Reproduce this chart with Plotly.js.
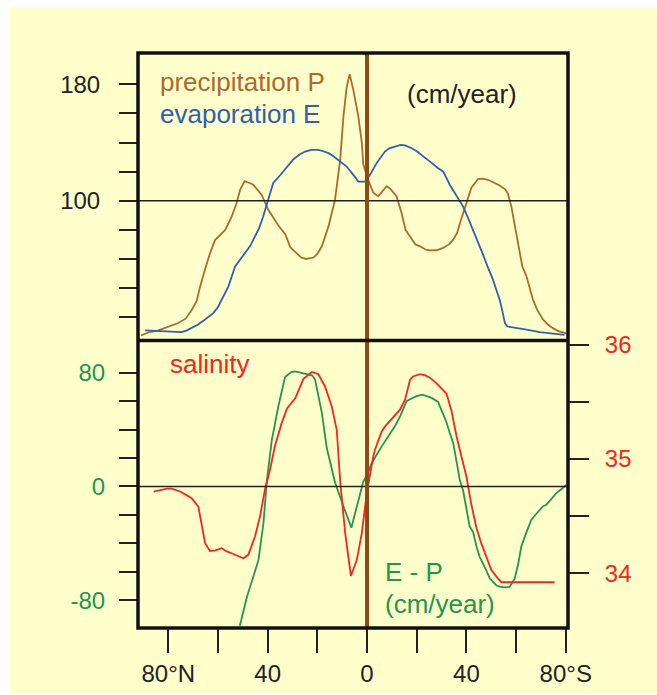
<!DOCTYPE html>
<html>
<head>
<meta charset="utf-8">
<script src="https://cdn.plot.ly/plotly-3.0.1.min.js"></script>
<style>html,body{margin:0;padding:0;background:#fff;}#chart{width:657px;height:695px;}</style>
</head>
<body>
<div id="chart"></div>
<script>
// Latitude: negative = North, positive = South
const precipLat = [-91,-88,-84,-80,-76,-73,-70.6,-68.6,-67.2,-65.2,-63.2,-61.2,-57.1,-54.5,-52.5,-51.1,-49.3,-47,-45.8,-42.4,-39.8,-35.7,-32.9,-30.9,-28.9,-26.5,-24.5,-21.5,-20,-18.2,-15.5,-12.9,-10.8,-9.5,-8.2,-7.0,-5.5,-3.5,-2.1,-1.5,0.5,2.5,4.5,6,7.9,9.5,11.9,13.9,15.5,17.3,19.5,21.3,23.5,25.3,28,30.6,33,34.7,36.3,37.3,38.7,40,42,44.7,46.5,48.7,51,53.4,55.5,56.7,58.1,59.5,60.8,62.5,64.2,65.5,66.8,68.5,70.8,72.8,74.8,77,79.5,80.5];
const precipVal = [7.5,9.5,11,13.5,16,19,25,31,41,53,64,73,80,89,98.4,107.5,113.5,112,111,104,94,83,77,68,65,61,60,61,63.5,68.7,82.4,100.7,128,158,178,187,176,158,140,125,114,105.5,103,106,110,108,103,91.6,80,75.5,70,68.7,66.5,65.9,66,67.6,70,73.3,78,84,91,99,109,114.9,115.2,114.4,112.5,110.5,108,105,96,82,71,55,48,40,32,25,18.5,15,12.5,10.5,9.3,8.8];

const evapLat = [-89.3,-85,-80,-74.6,-72.5,-70.6,-68,-65.2,-61.8,-60,-58.5,-55.8,-53.1,-51,-49.1,-47,-45.1,-43.5,-41.8,-39.8,-37.8,-35,-32,-29.6,-27,-24.9,-22.5,-19.6,-17.6,-15.5,-13.5,-11.5,-8.2,-5.5,-3.5,-0.8,1.2,3.9,5.5,7.2,9,11.2,13.5,15.3,18,20,22,24,26,28.5,30.7,33.3,35,37.3,38.7,40.7,42.7,44.7,46.7,48.7,50.7,52,53.4,54.5,55.5,56.5,60,64.2,69.5,74,78.2,79.5];
const evapVal = [11,10.5,10,9.7,11,12.7,15,18.4,23,27,32,41.2,54.9,59.5,64.1,69,75.5,81,89.2,100.7,112.1,117.5,124,128.5,132,133.8,135,135,134,132.7,130.5,128,123.5,117.8,113.2,113.2,117.8,126,130,133.8,136,137.2,138.4,138,136.1,134,131.5,129,126,122.5,120,111,106,99.5,96,88,80,72,63,54,45.8,39,32,24,16,13.6,12.8,11.5,9.7,8.8,8.1,7.8];

const salLat = [-85.9,-83,-80.5,-78.6,-75.2,-72.5,-70.6,-67.9,-66.5,-65.2,-63.2,-61,-58.5,-56.5,-54.5,-51.5,-49.8,-47.8,-46.3,-45.1,-43.1,-41.1,-39.1,-37.1,-34.4,-32.2,-28.9,-25.6,-22.2,-19.6,-16.9,-14.2,-12.2,-10.8,-8.8,-7.5,-6.5,-4.1,-2.1,-0.1,1.2,2.5,3.2,5.9,7.5,9.9,11.9,13.3,15.3,16,17.3,18.5,21.3,23.5,25.3,28,32,34,36,38,40,42,44,46,48.1,50,52.1,54.1,75.5];
const salVal = [34.714,34.73,34.74,34.74,34.714,34.68,34.656,34.582,34.407,34.262,34.194,34.2,34.218,34.19,34.174,34.15,34.13,34.16,34.24,34.32,34.495,34.73,34.9,35.11,35.31,35.44,35.53,35.7,35.76,35.74,35.633,35.458,35.254,34.8,34.35,34.145,33.975,34.116,34.35,34.7,34.875,35.02,35.08,35.24,35.29,35.35,35.4,35.43,35.517,35.575,35.69,35.72,35.74,35.73,35.71,35.66,35.57,35.42,35.2,35.02,34.845,34.6,34.4,34.26,34.13,34.03,33.97,33.92,33.92];

const epLat = [-51.2,-48.3,-45.5,-43.7,-41.7,-40.3,-38.3,-37.8,-35.7,-33,-30.5,-28.9,-26.5,-24.5,-22,-20.9,-19.6,-18.2,-16.2,-15,-12.9,-9.5,-6.3,-4.1,-1.5,0,1.9,5.9,8.5,11.2,13.5,15.9,17.5,20,22.3,24.5,26,28.6,30.5,32,33.3,34.7,36,37.3,38.7,40,41.3,42.7,44,45.3,46.7,48,49.4,50.7,52,53.4,55.5,57.4,59.4,60.8,62.1,64,66.1,68.5,70.8,72.2,74,76.2,78.2,80.2];
const epVal = [-98,-77.5,-62,-51.7,-25.8,4.7,32.9,37.6,56.4,77,80.5,81,80,79.4,78,75,65,52,27,18,3,-14,-29,-14.1,3.5,8,16.5,28.2,35,42.3,50,60,61.5,63.5,64.6,63,62.3,59.5,52,45,37.6,30.5,18,4.7,-3,-15,-28.2,-32,-42,-49.3,-54,-59,-64.6,-67,-69.5,-70.5,-71,-70.7,-65,-55,-42.3,-33,-23.5,-18.5,-14.1,-12.9,-9,-4.7,-2,1];

const xTickVals = [-80,-60,-40,-20,0,20,40,60,80];
const xTickText = ['80°N','','40','','0','','40','','80°S'];
const pTickVals = [20,40,60,80,100,120,140,160,180];
const pTickText = ['','','','','100','','','','180'];
const epTickVals = [-80,-60,-40,-20,0,20,40,60,80];
const epTickText = ['-80','','','','0','','','','80'];
const salTickVals = [34,34.5,35,35.5,36];
const salTickText = ['34','','35','','36'];

const BG = '#FFFFCC';
const BROWN = '#B0682C';
const BROWN_DARK = '#8E4A12';
const BLUE = '#2F60B3';
const GREEN = '#20984A';
const RED = '#FF2020';
const FONT = 'Liberation Sans, Arial, sans-serif';

const L=138, R=568, T=53, B=628;
function px(x){return (x-L)/(R-L);}
function py(y){return (B-y)/(B-T);}

const traces = [
  {x: precipLat, y: precipVal, xaxis:'x', yaxis:'y', mode:'lines', line:{color:BROWN, width:1.8}, hoverinfo:'skip'},
  {x: evapLat, y: evapVal, xaxis:'x', yaxis:'y', mode:'lines', line:{color:BLUE, width:1.8}, hoverinfo:'skip'},
  {x: salLat, y: salVal, xaxis:'x', yaxis:'y3', mode:'lines', line:{color:RED, width:1.8}, hoverinfo:'skip'},
  {x: epLat, y: epVal, xaxis:'x', yaxis:'y2', mode:'lines', line:{color:GREEN, width:1.8}, hoverinfo:'skip'}
];

function ann(text, x, y, color){
  return {text:text, x:px(x), y:py(y), xref:'paper', yref:'paper', xanchor:'left', yanchor:'middle',
          showarrow:false, font:{family:FONT, size:26, color:color}};
}

const layout = {
  width:657, height:695,
  margin:{l:L, r:657-R, t:T, b:695-B, pad:0},
  paper_bgcolor:BG, plot_bgcolor:BG,
  showlegend:false,
  font:{family:FONT, size:24, color:'#222'},
  xaxis:{anchor:'y2', domain:[0,1], range:[-92.2,80.9], tickmode:'array', tickvals:xTickVals, ticktext:xTickText,
         ticks:'outside', ticklen:24, tickwidth:2, tickcolor:'#222', showgrid:false, zeroline:false, showline:false,
         tickfont:{family:FONT, size:24, color:'#222'}},
  yaxis:{domain:[0.5,1], anchor:'x', range:[4,201.5], tickmode:'array', tickvals:pTickVals, ticktext:pTickText,
         ticks:'outside', ticklen:18, tickwidth:2, tickcolor:'#222', showgrid:false, zeroline:false, showline:false,
         ticklabelstandoff:14, tickfont:{family:FONT, size:24, color:'#222'}},
  yaxis2:{domain:[0,0.5], anchor:'x', range:[-99.6,102.7], tickmode:'array', tickvals:epTickVals, ticktext:epTickText,
         ticks:'outside', ticklen:18, tickwidth:2, tickcolor:'#222', showgrid:false, zeroline:false, showline:false,
         ticklabelstandoff:9, tickfont:{family:FONT, size:24, color:GREEN}},
  yaxis3:{overlaying:'y2', side:'right', anchor:'x', range:[33.52,36.035], tickmode:'array', tickvals:salTickVals, ticktext:salTickText,
         ticks:'outside', ticklen:20, tickwidth:2, tickcolor:'#222', showgrid:false, zeroline:false, showline:false,
         ticklabelstandoff:11, tickfont:{family:FONT, size:24, color:RED}},
  shapes:[
    // white margins around the yellow card
    {type:'rect', xref:'paper', yref:'paper', x0:px(0), x1:px(10), y0:py(0), y1:py(695), fillcolor:'#fff', line:{width:0}, layer:'below'},
    {type:'rect', xref:'paper', yref:'paper', x0:px(0), x1:px(657), y0:py(0), y1:py(7), fillcolor:'#fff', line:{width:0}, layer:'below'},
    {type:'rect', xref:'paper', yref:'paper', x0:px(0), x1:px(657), y0:py(693), y1:py(695), fillcolor:'#fff', line:{width:0}, layer:'below'},
    // reference lines
    {type:'line', xref:'paper', yref:'y', x0:0, x1:1, y0:100, y1:100, line:{color:'#222', width:1.6}},
    {type:'line', xref:'paper', yref:'y2', x0:0, x1:1, y0:0, y1:0, line:{color:'#222', width:1.6}},
    // equator
    {type:'line', xref:'x', yref:'paper', x0:0, x1:0, y0:0, y1:1, line:{color:BROWN_DARK, width:4}},
    // frame
    {type:'rect', xref:'paper', yref:'paper', x0:0, x1:1, y0:0, y1:1, line:{color:'#111', width:3.5}},
    {type:'line', xref:'paper', yref:'paper', x0:0, x1:1, y0:0.5, y1:0.5, line:{color:'#111', width:3.5}}
  ],
  annotations:[
    ann('precipitation P', 158, 82, BROWN),
    ann('evaporation E', 158, 114, BLUE),
    ann('(cm/year)', 405, 94, '#222'),
    ann('salinity', 168, 364, RED),
    ann('E - P', 383, 572, GREEN),
    ann('(cm/year)', 383, 604, GREEN)
  ]
};

Plotly.newPlot('chart', traces, layout, {staticPlot:true, displayModeBar:false});
</script>
</body>
</html>
